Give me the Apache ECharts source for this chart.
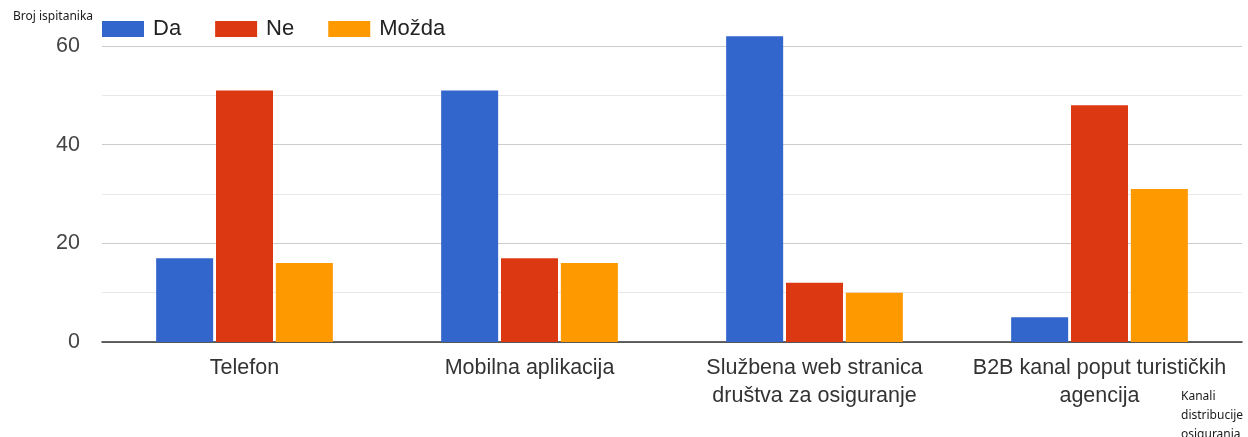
<!DOCTYPE html>
<html>
<head>
<meta charset="utf-8">
<script src="https://cdn.jsdelivr.net/npm/echarts@6/dist/echarts.min.js"></script>
<style>html,body{margin:0;padding:0;background:#fff}#c{width:1248px;height:437px}</style>
</head>
<body>
<div id="c"></div>
<script>
const categories = ['Telefon', 'Mobilna aplikacija', 'Službena web stranica\ndruštva za osiguranje', 'B2B kanal poput turističkih\nagencija'];
const seriesNames = ['Da', 'Ne', 'Možda'];
const da = [17, 51, 62, 5];
const ne = [51, 17, 12, 48];
const mozda = [16, 16, 10, 31];
const yTicks = [0, 20, 40, 60];
const colors = ['#3366cc', '#dc3912', '#ff9900'];

const chart = echarts.init(document.getElementById('c'));
const font = '"Liberation Sans", Arial, sans-serif';
const mk = (name, data, i) => ({
  name, type: 'bar', data, clip: false,
  barGap: '5%', barCategoryGap: '38%',
  itemStyle: { color: colors[i] },
  emphasis: { disabled: true }
});
chart.setOption({
  animation: false,
  textStyle: { fontFamily: font },
  legend: {
    left: 97, top: 13, itemWidth: 42, itemHeight: 16, itemGap: 34,
    icon: 'rect',
    textStyle: { fontSize: 22, color: '#222', fontFamily: font, padding: [0, 0, 0, 4] },
    data: seriesNames
  },
  grid: { left: 102, right: 6, top: 46, bottom: 95, containLabel: false },
  xAxis: {
    type: 'category', data: categories,
    axisLine: { lineStyle: { color: '#333', width: 1.5 } },
    axisTick: { show: false },
    axisLabel: { fontSize: 21.5, color: '#333', margin: 12, lineHeight: 28, fontFamily: font, interval: 0 }
  },
  yAxis: {
    type: 'value', min: 0, max: 60, interval: 10,
    axisLine: { show: false }, axisTick: { show: false },
    axisLabel: {
      fontSize: 21.5, color: '#444', margin: 22, fontFamily: font,
      formatter: v => yTicks.includes(v) ? String(v) : ''
    },
    splitLine: { lineStyle: { color: ['#cccccc', '#e8e8e8'], width: 1 } }
  },
  graphic: [
    { type: 'text', left: 13, top: 11, style: { text: 'Broj ispitanika', fontSize: 12, fill: '#1a1a1a', fontFamily: '"Noto Sans", sans-serif' } },
    { type: 'text', left: 1181, top: 387, style: { text: 'Kanali\ndistribucije\nosiguranja', fontSize: 12, lineHeight: 19, fill: '#1a1a1a', fontFamily: '"Noto Sans", sans-serif' } }
  ],
  series: [mk('Da', da, 0), mk('Ne', ne, 1), mk('Možda', mozda, 2)]
});
</script>
</body>
</html>
